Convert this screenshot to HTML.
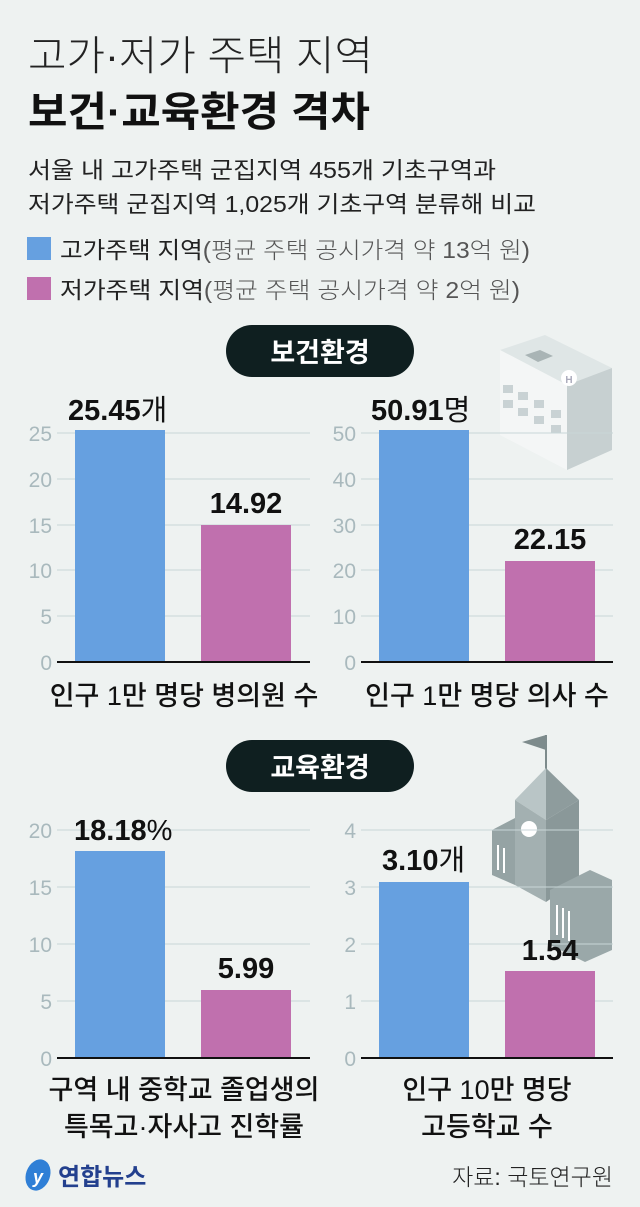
<!DOCTYPE html>
<html><head><meta charset="utf-8"><style>
html,body{margin:0;padding:0;background:#eef2f1}
svg{display:block}
text{font-family:"Liberation Sans","Noto Sans CJK KR",sans-serif}
.t{fill:#111}
.tick{fill:#a9b9bd;font-size:21px;font-weight:300}
.val{font-size:29px;font-weight:700;fill:#111}
.lab{font-size:27px;font-weight:500;fill:#111}
</style></head><body>
<svg width="640" height="1207" viewBox="0 0 640 1207" xmlns="http://www.w3.org/2000/svg">
<rect width="640" height="1207" fill="#eef2f1"/>
<text x="28" y="70" font-size="41" font-weight="300" fill="#222" textLength="345" lengthAdjust="spacingAndGlyphs">고가·저가 주택 지역</text>
<text x="28" y="126" font-size="41" font-weight="700" fill="#111" textLength="342" lengthAdjust="spacingAndGlyphs">보건·교육환경 격차</text>
<text x="28" y="178" font-size="23" font-weight="400" fill="#222" textLength="468" lengthAdjust="spacingAndGlyphs">서울 내 고가주택 군집지역 455개 기초구역과</text>
<text x="28" y="212" font-size="23" font-weight="400" fill="#222" textLength="508" lengthAdjust="spacingAndGlyphs">저가주택 군집지역 1,025개 기초구역 분류해 비교</text>
<rect x="27" y="237" width="24" height="23" fill="#66a0e0"/>
<text x="60" y="258" font-size="23" fill="#222" textLength="470" lengthAdjust="spacingAndGlyphs">고가주택 지역<tspan font-weight="300" fill="#555">(평균 주택 공시가격 약 13억 원)</tspan></text>
<rect x="27" y="277" width="24" height="23" fill="#c070ae"/>
<text x="60" y="298" font-size="23" fill="#222" textLength="460" lengthAdjust="spacingAndGlyphs">저가주택 지역<tspan font-weight="300" fill="#555">(평균 주택 공시가격 약 2억 원)</tspan></text>

<!-- pill 1 -->
<rect x="226" y="325" width="188" height="52" rx="26" fill="#0f1f20"/>
<text x="320" y="362" font-size="27" font-weight="700" fill="#fff" text-anchor="middle">보건환경</text>

<!-- hospital icon -->
<g>
<polygon points="500,350 545,335 612,368 567,385" fill="#dfe6e6"/>
<polygon points="500,350 567,385 567,470 500,435" fill="#f4f6f6"/>
<polygon points="567,385 612,368 612,450 567,470" fill="#c7d0d1"/>
<polygon points="525,355 540,350 553,356 538,362" fill="#a9b4b5"/>
<circle cx="569" cy="378" r="8" fill="#fff"/>
<text x="569" y="383" font-size="10" font-weight="700" fill="#aab" text-anchor="middle">H</text>
<g fill="#c9d2d4"><rect x="503" y="385" width="10" height="8"/><rect x="518" y="392" width="10" height="8"/><rect x="534" y="400" width="10" height="8"/><rect x="503" y="400" width="10" height="8"/><rect x="518" y="408" width="10" height="8"/><rect x="534" y="416" width="10" height="8"/><rect x="551" y="410" width="10" height="8"/><rect x="551" y="425" width="10" height="8"/></g>
</g>

<!-- chart 1 -->
<g stroke="#c8d6d8" stroke-width="1">
<line x1="57" y1="433" x2="310" y2="433"/><line x1="57" y1="479" x2="310" y2="479"/><line x1="57" y1="525" x2="310" y2="525"/><line x1="57" y1="570" x2="310" y2="570"/><line x1="57" y1="616" x2="310" y2="616"/>
<line x1="361" y1="433" x2="613" y2="433"/><line x1="361" y1="479" x2="613" y2="479"/><line x1="361" y1="525" x2="613" y2="525"/><line x1="361" y1="570" x2="613" y2="570"/><line x1="361" y1="616" x2="613" y2="616"/>
</g>
<g class="tick" text-anchor="end">
<text x="52" y="441">25</text><text x="52" y="487">20</text><text x="52" y="533">15</text><text x="52" y="578">10</text><text x="52" y="624">5</text><text x="52" y="670">0</text>
<text x="356" y="441">50</text><text x="356" y="487">40</text><text x="356" y="533">30</text><text x="356" y="578">20</text><text x="356" y="624">10</text><text x="356" y="670">0</text>
</g>
<rect x="75" y="430" width="90" height="232" fill="#66a0e0"/>
<rect x="201" y="525" width="90" height="137" fill="#c070ae"/>
<rect x="379" y="430" width="90" height="232" fill="#66a0e0"/>
<rect x="505" y="561" width="90" height="101" fill="#c070ae"/>
<line x1="57" y1="662" x2="310" y2="662" stroke="#111" stroke-width="2"/>
<line x1="361" y1="662" x2="613" y2="662" stroke="#111" stroke-width="2"/>
<text class="val" x="68" y="420">25.45<tspan font-weight="400">개</tspan></text>
<text class="val" x="246" y="513" text-anchor="middle">14.92</text>
<text class="val" x="371" y="420">50.91<tspan font-weight="400">명</tspan></text>
<text class="val" x="550" y="549" text-anchor="middle">22.15</text>
<text class="lab" x="184" y="705" text-anchor="middle">인구 1만 명당 병의원 수</text>
<text class="lab" x="487" y="705" text-anchor="middle">인구 1만 명당 의사 수</text>

<!-- pill 2 -->
<rect x="226" y="740" width="188" height="52" rx="26" fill="#0f1f20"/>
<text x="320" y="777" font-size="27" font-weight="700" fill="#fff" text-anchor="middle">교육환경</text>

<!-- school icon -->
<g>
<line x1="546" y1="735" x2="546" y2="770" stroke="#7d8b8c" stroke-width="2"/>
<polygon points="546,735 522,742 546,750" fill="#7d8b8c"/>
<polygon points="546,768 515,800 546,820" fill="#b9c5c6"/>
<polygon points="546,768 579,800 546,820" fill="#8e9c9d"/>
<polygon points="515,800 546,820 546,902 515,885" fill="#a3b0b1"/>
<polygon points="546,820 579,800 579,880 546,902" fill="#8a9899"/>
<polygon points="492,830 515,818 515,885 492,875" fill="#95a3a4"/>
<polygon points="550,890 590,870 612,880 612,950 585,962 550,945" fill="#9aa8a9"/>
<circle cx="529" cy="829" r="8" fill="#fff"/>
<g stroke="#fff" stroke-width="2"><line x1="498" y1="845" x2="498" y2="870"/><line x1="504" y1="848" x2="504" y2="873"/><line x1="557" y1="905" x2="557" y2="935"/><line x1="563" y1="908" x2="563" y2="938"/><line x1="569" y1="911" x2="569" y2="941"/></g>
</g>

<g stroke="#c8d6d8" stroke-width="1">
<line x1="57" y1="830" x2="310" y2="830"/><line x1="57" y1="887" x2="310" y2="887"/><line x1="57" y1="944" x2="310" y2="944"/><line x1="57" y1="1001" x2="310" y2="1001"/>
<line x1="361" y1="830" x2="613" y2="830"/><line x1="361" y1="887" x2="613" y2="887"/><line x1="361" y1="944" x2="613" y2="944"/><line x1="361" y1="1001" x2="613" y2="1001"/>
</g>
<g class="tick" text-anchor="end">
<text x="52" y="838">20</text><text x="52" y="895">15</text><text x="52" y="952">10</text><text x="52" y="1009">5</text><text x="52" y="1066">0</text>
<text x="356" y="838">4</text><text x="356" y="895">3</text><text x="356" y="952">2</text><text x="356" y="1009">1</text><text x="356" y="1066">0</text>
</g>
<rect x="75" y="851" width="90" height="207" fill="#66a0e0"/>
<rect x="201" y="990" width="90" height="68" fill="#c070ae"/>
<rect x="379" y="882" width="90" height="176" fill="#66a0e0"/>
<rect x="505" y="971" width="90" height="87" fill="#c070ae"/>
<line x1="57" y1="1058" x2="310" y2="1058" stroke="#111" stroke-width="2"/>
<line x1="361" y1="1058" x2="613" y2="1058" stroke="#111" stroke-width="2"/>
<text class="val" x="74" y="840">18.18<tspan font-weight="400">%</tspan></text>
<text class="val" x="246" y="978" text-anchor="middle">5.99</text>
<text class="val" x="382" y="870">3.10<tspan font-weight="400">개</tspan></text>
<text class="val" x="550" y="960" text-anchor="middle">1.54</text>
<text class="lab" x="184" y="1099" text-anchor="middle">구역 내 중학교 졸업생의</text>
<text class="lab" x="184" y="1136" text-anchor="middle">특목고·자사고 진학률</text>
<text class="lab" x="487" y="1099" text-anchor="middle">인구 10만 명당</text>
<text class="lab" x="487" y="1136" text-anchor="middle">고등학교 수</text>

<!-- footer -->
<ellipse cx="38" cy="1175" rx="12" ry="16" fill="#2f7fd6" transform="rotate(20 38 1175)"/>
<text x="33" y="1183" font-size="18" font-style="italic" font-weight="700" fill="#fff">y</text>
<text x="58" y="1185" font-size="24" font-weight="700" fill="#23408e">연합뉴스</text>
<text x="613" y="1185" font-size="23" font-weight="300" fill="#222" text-anchor="end">자료: 국토연구원</text>
</svg>
</body></html>
